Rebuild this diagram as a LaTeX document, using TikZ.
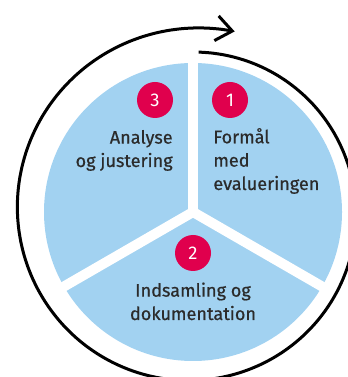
\documentclass[tikz,border=0pt]{standalone}
\usepackage{fontspec}
\setmainfont{Fira Sans}
\newfontfamily\lblfont{Fira Sans}[FakeBold=0.6]
\usetikzlibrary{arrows.meta, calc}
\definecolor{pieblue}{HTML}{A2D2F1}
\definecolor{numred}{HTML}{E0004D}
\definecolor{txtgray}{HTML}{2B2B2B}

\begin{document}
\begin{tikzpicture}[x=0.02cm, y=0.02cm,
    num/.style={circle, fill=numred, text=white, minimum size=0.72cm, inner sep=0pt, font=\fontsize{10.5}{12}\selectfont},
    lbl/.style={text=txtgray, inner sep=0pt, font=\lblfont\fontsize{10.3}{13.3}\selectfont},
    gap/.style={draw=white, line width=0.2cm, line cap=round}]
  \useasboundingbox (0,0) rectangle (347,377);
  \coordinate (c) at (193,165);

  \fill[pieblue] (c) circle (149);
  \foreach \a in {90,210,330}
    \draw[gap] (c) -- ++(\a:156);

  \draw[line width=0.06cm, -{Straight Barb[length=0.32cm, width=0.5cm]}, shift={(c)}]
    plot[domain=2:373, samples=90, smooth] ({90-\x}:{160+24*(\x/360)^1.5});

  \node[num] at (230,277) (n1) {1};
  \node[num] at (193,124) (n2) {2};
  \node[num] at (155,277) (n3) {3};

  \node[lbl, align=left, anchor=base west] at (213,187) (t1) {Formål\\med\\evalueringen};
  \node[lbl, align=center, anchor=base] at (193,57) (t2) {Indsamling og\\dokumentation};
  \node[lbl, align=right, anchor=base east] at (173,210) (t3) {Analyse\\og justering};
\end{tikzpicture}
\end{document}
